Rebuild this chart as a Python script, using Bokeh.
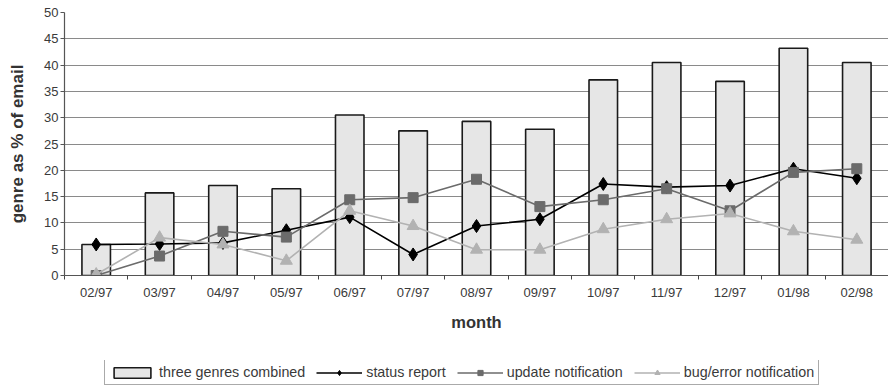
from bokeh.plotting import figure
from bokeh.models import FixedTicker, Legend, LegendItem, Range1d
from bokeh.layouts import column
from bokeh.embed import file_html
from bokeh.resources import INLINE

months = ["02/97", "03/97", "04/97", "05/97", "06/97", "07/97", "08/97",
          "09/97", "10/97", "11/97", "12/97", "01/98", "02/98"]
combined = [5.9, 15.7, 17.1, 16.5, 30.5, 27.5, 29.3, 27.8, 37.2, 40.5, 36.9, 43.2, 40.5]
status = [5.9, 6.0, 6.2, 8.6, 11.1, 4.0, 9.4, 10.7, 17.4, 16.8, 17.1, 20.3, 18.5]
update = [0.0, 3.7, 8.4, 7.3, 14.4, 14.8, 18.3, 13.1, 14.4, 16.5, 12.3, 19.6, 20.3]
bug = [0.2, 7.2, 5.9, 2.8, 12.3, 9.4, 4.9, 4.9, 8.8, 10.7, 11.8, 8.4, 6.8]
y_ticks = [0, 5, 10, 15, 20, 25, 30, 35, 40, 45, 50]

x = list(range(len(months)))
FONT = "Liberation Sans"

BAR = dict(width=0.45, bottom=0, fill_color="#e6e6e6", line_color="#1a1a1a", line_width=1.6)
S_LINE = dict(line_color="#000000", line_width=1.6)
S_MARK = dict(marker="diamond", size=13, fill_color="#000000", line_color="#000000")
U_LINE = dict(line_color="#6b6b6b", line_width=1.6)
U_MARK = dict(marker="square", size=10, fill_color="#6b6b6b", line_color="#6b6b6b")
B_LINE = dict(line_color="#b2b2b2", line_width=1.6)
B_MARK = dict(marker="triangle", size=12, fill_color="#b2b2b2", line_color="#b2b2b2")

p = figure(frame_width=824, frame_height=263, output_backend="svg", toolbar_location=None,
           x_range=Range1d(-0.5, len(months) - 0.5), y_range=Range1d(0, 50),
           min_border_left=64, min_border_top=12, min_border_right=0,
           min_border_bottom=85)
p.outline_line_color = None
p.background_fill_color = "white"

p.xgrid.grid_line_color = None
p.ygrid.grid_line_color = "#8a8a8a"
p.ygrid.grid_line_width = 1.2

p.vbar(x=x, top=combined, **BAR)
p.line(x, status, **S_LINE)
p.scatter(x, status, **S_MARK)
p.line(x, update, **U_LINE)
p.scatter(x, update, **U_MARK)
p.line(x, bug, **B_LINE)
p.scatter(x, bug, **B_MARK)

# x axis
p.xaxis.ticker = FixedTicker(ticks=x, minor_ticks=[i - 0.5 for i in range(len(months) + 1)])
p.xaxis.major_label_overrides = {i: m for i, m in enumerate(months)}
p.xaxis.major_tick_out = 0
p.xaxis.major_tick_in = 0
p.xaxis.minor_tick_out = 4
p.xaxis.minor_tick_in = 0
p.xaxis.minor_tick_line_color = "#444444"
p.xaxis.axis_line_color = "#555555"
p.xaxis.axis_line_width = 1.2
p.xaxis.major_label_standoff = 5
p.xaxis.major_label_text_font = FONT
p.xaxis.major_label_text_font_size = "13px"
p.xaxis.major_label_text_color = "#3a3a3a"
p.xaxis.axis_label = "month"
p.xaxis.axis_label_text_font = FONT
p.xaxis.axis_label_text_font_size = "16.5px"
p.xaxis.axis_label_text_font_style = "bold"
p.xaxis.axis_label_text_color = "#333333"
p.xaxis.axis_label_standoff = 10

# y axis
p.yaxis.ticker = FixedTicker(ticks=y_ticks)
p.yaxis.major_tick_out = 4
p.yaxis.major_tick_in = 0
p.yaxis.minor_tick_line_color = None
p.yaxis.axis_line_color = "#555555"
p.yaxis.axis_line_width = 1.2
p.yaxis.major_tick_line_color = "#555555"
p.yaxis.major_label_standoff = 2
p.yaxis.major_label_text_font = FONT
p.yaxis.major_label_text_font_size = "13px"
p.yaxis.major_label_text_color = "#3a3a3a"
p.yaxis.axis_label = "genre as % of email"
p.yaxis.axis_label_text_font = FONT
p.yaxis.axis_label_text_font_size = "17px"
p.yaxis.axis_label_text_font_style = "bold"
p.yaxis.axis_label_text_color = "#333333"
p.yaxis.axis_label_standoff = 14

# legend strip (separate figure below, hidden copies of the series supply the legend glyphs)
q = figure(width=888, height=28, output_backend="svg", toolbar_location=None,
           x_range=Range1d(-0.5, len(months) - 0.5), y_range=Range1d(0, 50),
           x_axis_location=None, y_axis_location=None,
           min_border_left=0, min_border_right=0, min_border_top=0, min_border_bottom=0)
q.outline_line_color = None
q.xgrid.grid_line_color = None
q.ygrid.grid_line_color = None
rb = q.vbar(x=x, top=combined, visible=False, **BAR)
r1 = q.line(x, status, visible=False, **S_LINE)
r1m = q.scatter(x, status, visible=False, **S_MARK)
r2 = q.line(x, update, visible=False, **U_LINE)
r2m = q.scatter(x, update, visible=False, **U_MARK)
r3 = q.line(x, bug, visible=False, **B_LINE)
r3m = q.scatter(x, bug, visible=False, **B_MARK)

legend = Legend(items=[
    LegendItem(label="three genres combined", renderers=[rb]),
    LegendItem(label="status report", renderers=[r1, r1m]),
    LegendItem(label="update notification", renderers=[r2, r2m]),
    LegendItem(label="bug/error notification", renderers=[r3, r3m]),
], orientation="horizontal", location=(40, 3))
legend.label_text_font = FONT
legend.label_text_font_size = "14.3px"
legend.label_text_color = "#3a3a3a"
legend.glyph_width = 46
legend.glyph_height = 13
legend.label_height = 13
legend.label_standoff = 4
legend.spacing = 11
legend.padding = 4
legend.margin = 0
legend.border_line_color = "#555555"
legend.border_line_width = 1.2
legend.background_fill_alpha = 1
q.add_layout(legend, "center")

open("out.html", "w").write(file_html(column(p, q, spacing=0), INLINE))
